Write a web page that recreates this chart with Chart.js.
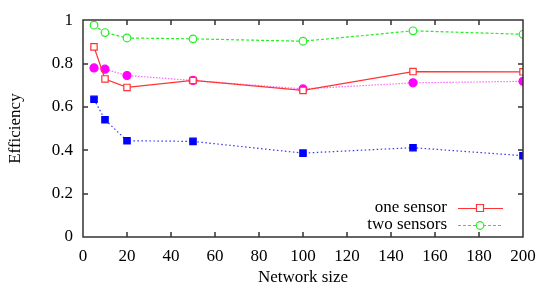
<!DOCTYPE html>
<html>
<head>
<meta charset="utf-8">
<script src="https://cdn.jsdelivr.net/npm/chart.js@4/dist/chart.umd.min.js"></script>
<style>
  html, body { margin: 0; padding: 0; background: #fff; }
  #wrap { width: 554px; height: 291px; }
</style>
</head>
<body>
<div id="wrap"><canvas id="effChart"></canvas></div>
<script>
const networkSize = [5, 10, 20, 50, 100, 150, 200];
const oneSensor = [0.877, 0.729, 0.690, 0.722, 0.676, 0.763, 0.762];
const twoSensors = [0.977, 0.943, 0.918, 0.914, 0.903, 0.951, 0.935];
const magentaSeries = [0.780, 0.774, 0.745, 0.722, 0.683, 0.711, 0.718];
const blueSeries = [0.635, 0.541, 0.444, 0.441, 0.387, 0.412, 0.375];
const xTicks = [0, 20, 40, 60, 80, 100, 120, 140, 160, 180, 200];
const yTicks = [0, 0.2, 0.4, 0.6, 0.8, 1];

const serif = 'Liberation Serif';
const toPoints = (ys) => ys.map((y, i) => ({ x: networkSize[i], y }));

// gnuplot style frame, inward ticks and inside legend
const framePlugin = {
    id: 'frame',
    afterDraw(chart) {
        const ctx = chart.ctx;
        const a = chart.chartArea;
        const sx = chart.scales.x, sy = chart.scales.y;
        const l = Math.round(a.left), r = Math.round(a.right);
        const t = Math.round(a.top), b = Math.round(a.bottom);
        ctx.save();
        ctx.setLineDash([]);
        ctx.strokeStyle = '#333333';
        ctx.lineWidth = 1.5;
        ctx.beginPath();
        ctx.moveTo(l, t); ctx.lineTo(r, t); ctx.lineTo(r, b); ctx.lineTo(l, b); ctx.closePath();
        xTicks.forEach(v => {
            const px = Math.round(sx.getPixelForValue(v));
            ctx.moveTo(px, b); ctx.lineTo(px, b - 5);
            ctx.moveTo(px, t); ctx.lineTo(px, t + 5);
        });
        yTicks.forEach(v => {
            const py = Math.round(sy.getPixelForValue(v));
            ctx.moveTo(l, py); ctx.lineTo(l + 5, py);
            ctx.moveTo(r, py); ctx.lineTo(r - 5, py);
        });
        ctx.stroke();

        // legend (only the first two series)
        const items = chart.data.datasets.slice(0, 2);
        ctx.font = '17px "' + serif + '"';
        ctx.textAlign = 'right';
        ctx.textBaseline = 'middle';
        items.forEach((ds, i) => {
            const y = 208 + i * 17;
            ctx.fillStyle = '#000';
            ctx.fillText(ds.label, 447, y);
            ctx.strokeStyle = ds.borderColor;
            ctx.lineWidth = 1.2;
            ctx.setLineDash(ds.borderDash || []);
            ctx.beginPath();
            ctx.moveTo(458, y + 0.5); ctx.lineTo(503, y + 0.5);
            ctx.stroke();
            ctx.setLineDash([]);
            ctx.fillStyle = '#fff';
            ctx.beginPath();
            if (ds.pointStyle === 'rect') {
                ctx.rect(476.5, y - 3.5, 7, 7);
            } else {
                ctx.arc(480, y + 0.5, 3.8, 0, Math.PI * 2);
            }
            ctx.fill();
            ctx.stroke();
        });
        ctx.restore();
    }
};

new Chart(document.getElementById('effChart'), {
    type: 'scatter',
    data: {
        datasets: [
            {
                label: 'one sensor',
                data: toPoints(oneSensor),
                showLine: true,
                borderColor: '#ff3333',
                backgroundColor: '#ffffff',
                borderWidth: 1.2,
                pointStyle: 'rect',
                pointRadius: 4.5,
                pointBorderWidth: 1.2
            },
            {
                label: 'two sensors',
                data: toPoints(twoSensors),
                showLine: true,
                borderColor: '#22ee22',
                backgroundColor: '#ffffff',
                borderWidth: 1.2,
                borderDash: [3, 2],
                pointStyle: 'circle',
                pointRadius: 3.8,
                pointBorderWidth: 1.2
            },
            {
                label: 'magenta',
                data: toPoints(magentaSeries),
                showLine: true,
                borderColor: '#ff66ff',
                backgroundColor: '#ff00ff',
                pointBorderColor: '#ff00ff',
                borderWidth: 1.2,
                borderDash: [1.5, 1.5],
                pointStyle: 'circle',
                pointRadius: 4
            },
            {
                label: 'blue',
                data: toPoints(blueSeries),
                showLine: true,
                borderColor: '#3333ff',
                backgroundColor: '#0000ff',
                pointBorderColor: '#0000ff',
                borderWidth: 1.2,
                borderDash: [1.5, 2.5],
                pointStyle: 'rect',
                pointRadius: 4.5
            }
        ]
    },
    options: {
        responsive: true,
        maintainAspectRatio: false,
        animation: false,
        layout: { padding: { left: 0, right: 31, top: 20, bottom: 0 } },
        plugins: {
            legend: { display: false },
            tooltip: { enabled: false }
        },
        scales: {
            x: {
                type: 'linear',
                min: 0,
                max: 200,
                afterBuildTicks: (s) => { s.ticks = xTicks.map(v => ({ value: v })); },
                afterFit: (s) => { s.height = 54; },
                grid: { display: false, drawTicks: false },
                border: { display: false },
                ticks: {
                    color: '#000',
                    padding: 9,
                    maxRotation: 0,
                    font: { family: serif, size: 17 }
                },
                title: {
                    display: true,
                    text: 'Network size',
                    color: '#000',
                    padding: { top: 0, bottom: 3 },
                    font: { family: serif, size: 17 }
                }
            },
            y: {
                type: 'linear',
                min: 0,
                max: 1,
                afterBuildTicks: (s) => { s.ticks = yTicks.map(v => ({ value: v })); },
                afterFit: (s) => { s.width = 83; },
                grid: { display: false, drawTicks: false },
                border: { display: false },
                ticks: {
                    color: '#000',
                    padding: 10,
                    font: { family: serif, size: 17 },
                    callback: (v) => String(v)
                },
                title: {
                    display: true,
                    text: 'Efficiency',
                    color: '#000',
                    padding: { top: 5, bottom: 0 },
                    font: { family: serif, size: 17 }
                }
            }
        }
    },
    plugins: [framePlugin]
});
</script>
</body>
</html>
